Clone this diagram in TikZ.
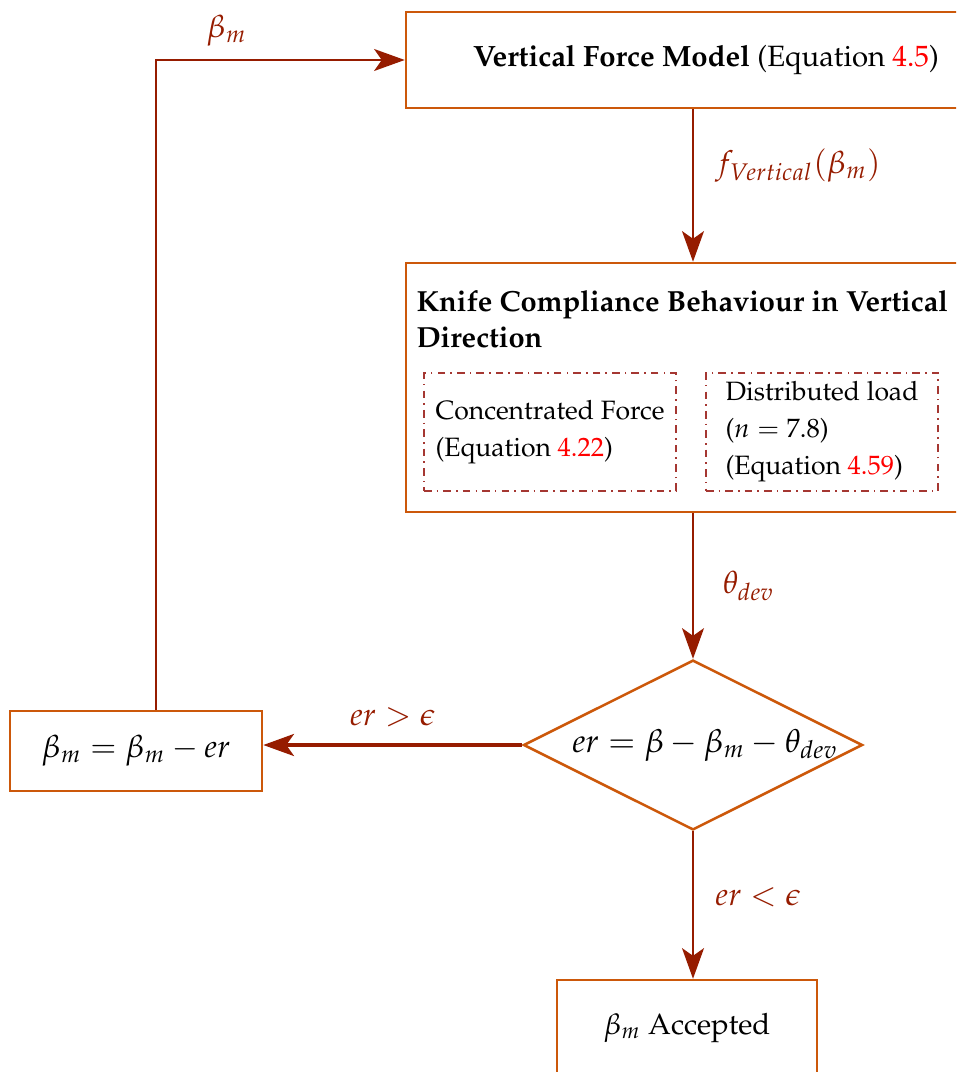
\documentclass[tikz,border=0pt]{standalone}
\usepackage[T1]{fontenc}
\usepackage{mathpazo}
\usetikzlibrary{arrows.meta,shapes.geometric,calc}
\definecolor{boxc}{RGB}{204,88,10}
\definecolor{arrc}{RGB}{150,28,0}
\definecolor{dashc}{RGB}{165,55,50}
\definecolor{refc}{RGB}{255,0,0}
\tikzset{
  every node/.style={font=\fontsize{11.5}{14.2}\selectfont},
  box/.style={draw=boxc, line width=1pt, rectangle, inner sep=0pt},
  subbox/.style={draw=dashc, line width=0.6pt, dash dot, rectangle, align=left, inner sep=0pt,
    font=\fontsize{10.4}{14.5}\selectfont},
  arr/.style={draw=arrc, line width=0.85pt, -{Stealth[length=12pt,width=8.6pt,inset=3pt]}},
  thickarr/.style={arr, line width=1.5pt},
  lab/.style={text=arrc, font=\fontsize{12.4}{15}\selectfont},
  dia/.style={draw=boxc, line width=1pt, diamond, aspect=2, inner sep=0pt}
}
\newcommand{\eqref}[1]{\textcolor{refc}{#1}}
\begin{document}
\begin{tikzpicture}[x=0.392pt,y=-0.392pt]
\useasboundingbox (0,0) rectangle (956,1072);
\clip (0,0) rectangle (956,1072);

\node[box, minimum width=235.2pt, minimum height=37.6pt] (vfm) at (706,60)
  {\textbf{Vertical Force Model} (Equation \eqref{4.5})};

\node[box, minimum width=225pt, minimum height=97.6pt] (knife) at (693,387.5) {};
\node[anchor=north west, align=left, inner sep=0pt, font=\fontsize{11.4}{14.1}\selectfont] (ktitle) at (416,290)
  {\textbf{Knife Compliance Behaviour in Vertical}\\\textbf{Direction}};
\node[subbox, minimum width=98.8pt, minimum height=46.3pt] (cf) at (550,432)
  {Concentrated Force\\(Equation \eqref{4.22})};
\node[subbox, minimum width=91pt, minimum height=46.3pt] (dl) at (822,432)
  {Distributed load\\($n = 7.8$)\\(Equation \eqref{4.59})};

\node[dia, minimum width=132.9pt, minimum height=66.6pt] (err) at (693,745) {};
\node[font=\fontsize{12.8}{15.5}\selectfont, inner sep=0pt] (errtext) at (705,745)
  {$er = \beta - \beta_m - \theta_{dev}$};

\node[box, minimum width=98.8pt, minimum height=31.4pt, font=\fontsize{12.4}{15}\selectfont] (upd) at (136,751)
  {$\beta_m = \beta_m - er$};

\node[box, minimum width=101.9pt, minimum height=37.6pt] (acc) at (687,1028)
  {$\beta_m$ Accepted};

\draw[arr] (vfm.south -| knife.north) -- node[pos=0.37, right=5pt, lab] {$f_{Vertical}(\beta_m)$} (knife.north);
\draw[arr] (knife.south) -- node[pos=0.5, right=8pt, lab] {$\theta_{dev}$} (err.north);
\draw[thickarr] (err.west) -- node[pos=0.5, above=3pt, lab] {$er > \epsilon$} (err.west -| upd.east);
\draw[arr] (err.south) -- node[pos=0.45, right=5pt, lab] {$er < \epsilon$} (err.south |- acc.north);
\draw[arr] ($(upd.north)+(20,0)$) |- node[pos=0.642, above=1.5pt, lab] {$\beta_m$} (vfm.west);
\end{tikzpicture}
\end{document}
